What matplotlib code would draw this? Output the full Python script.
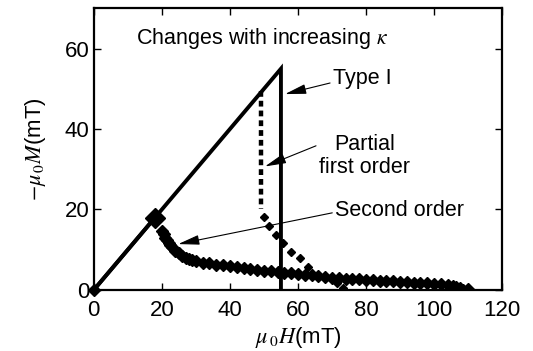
import numpy as np
import matplotlib.pyplot as plt

plt.rcParams['font.family'] = ['Liberation Sans', 'DejaVu Sans']
plt.rcParams['mathtext.fontset'] = 'stix'

# Type I: linear rise then abrupt drop
type1_x = [0, 55, 55]
type1_y = [0, 55, 0]

# Partial first order: vertical dotted section then tail
partial_vert_x = [49, 49]
partial_vert_y = [49.5, 20]
partial_tail_x = [50.0, 51.6, 53.6, 55.6, 57.9, 60.6, 63.0, 71.4, 73.3]
partial_tail_y = [18.2, 15.8, 13.7, 11.6, 9.5, 7.9, 5.8, 1.7, 0.6]

# Second order: diagonal to Hc1 then slow decay
second_diag_x = [0, 18]
second_diag_y = [0, 18]
second_x = [20.0, 20.5, 21.0, 21.5, 22.0, 22.5, 23.0, 24.0, 25.0, 26.0, 27.0, 28.0,
            29.0, 30.0, 32.0, 34.0, 36.0, 38.0, 40.0, 42.0, 44.0, 46.0, 48.0, 50.0,
            52.0, 54.0, 56.0, 58.0, 60.0, 62.0, 64.0, 66.0, 68.0, 70.0, 72.0, 74.0,
            76.0, 78.0, 80.0, 82.0, 84.0, 86.0, 88.0, 90.0, 92.0, 94.0, 96.0, 98.0,
            100.0, 102.0, 104.0, 105.5, 106.5, 107.5, 108.5, 110.0]
second_y = [14.6, 13.8, 13.0, 12.3, 11.7, 11.1, 10.6, 9.8, 9.1, 8.5, 8.0, 7.7,
            7.4, 7.1, 6.8, 6.6, 6.3, 6.1, 5.9, 5.6, 5.4, 5.2, 5.0, 4.8,
            4.6, 4.5, 4.3, 4.1, 3.9, 3.7, 3.6, 3.4, 3.2, 3.0, 2.9, 2.8,
            2.7, 2.6, 2.5, 2.4, 2.3, 2.2, 2.1, 2.0, 1.9, 1.8, 1.7, 1.6,
            1.5, 1.4, 1.3, 1.1, 0.8, 0.4, 0.1, 0.2]

fig = plt.figure(figsize=(5.33, 3.51), dpi=100)
ax = fig.add_axes([0.176, 0.174, 0.766, 0.802])

ax.plot(type1_x, type1_y, color='k', lw=2.8, solid_joinstyle='miter')
ax.plot(partial_vert_x, partial_vert_y, color='k', lw=3.2, ls=(0, (1.3, 0.9)))
ax.plot(partial_tail_x, partial_tail_y, ls='none', marker='D', ms=4.5, color='k')
ax.plot(second_diag_x, second_diag_y, color='k', lw=2.8)
ax.plot(second_x, second_y, color='k', lw=3, marker='D', ms=6.5)
ax.plot([18], [18], ls='none', marker='D', ms=10, color='k')
ax.plot([0], [0], ls='none', marker='D', ms=6, color='k', clip_on=False)

ax.set_xlim(0, 120)
ax.set_ylim(0, 70)
ax.set_xticks(np.arange(0, 121, 20))
ax.set_yticks(np.arange(0, 61, 20))
ax.tick_params(direction='in', length=5, width=1, top=True, right=True,
               labelsize=16, pad=3)
ax.tick_params(axis='x', pad=7)
for s in ax.spines.values():
    s.set_linewidth(1.6)

ax.set_xlabel(r'$\mu_{\,0}H$(mT)', fontsize=16, labelpad=3)
ax.set_ylabel(r'$-\mu_{\,0}M$(mT)', fontsize=16, labelpad=12)

ax.text(12.3, 62.5, r'Changes with increasing $\kappa$', fontsize=15.5, va='center')

arrow = dict(arrowstyle='-|>,head_length=1.3,head_width=0.3', lw=0.8, color='k',
             shrinkA=0, shrinkB=0, mutation_scale=10)
ax.annotate('Type I', xy=(56.2, 48.7), xytext=(70.3, 52.5), fontsize=15.5,
            va='center', arrowprops=dict(arrow, relpos=(-0.05, 0.3)))
ax.annotate('Partial\nfirst order', xy=(50.3, 30.7), xytext=(79.5, 33.3),
            fontsize=15.5, va='center', ha='center', multialignment='center',
            linespacing=1.15, arrowprops=dict(arrow, relpos=(0.03, 0.78)))
ax.annotate('Second order', xy=(24.8, 11.4), xytext=(70.9, 19.7), fontsize=15.5,
            va='center', arrowprops=dict(arrow, relpos=(-0.02, 0.4)))

fig.savefig('out.png', dpi=100)
